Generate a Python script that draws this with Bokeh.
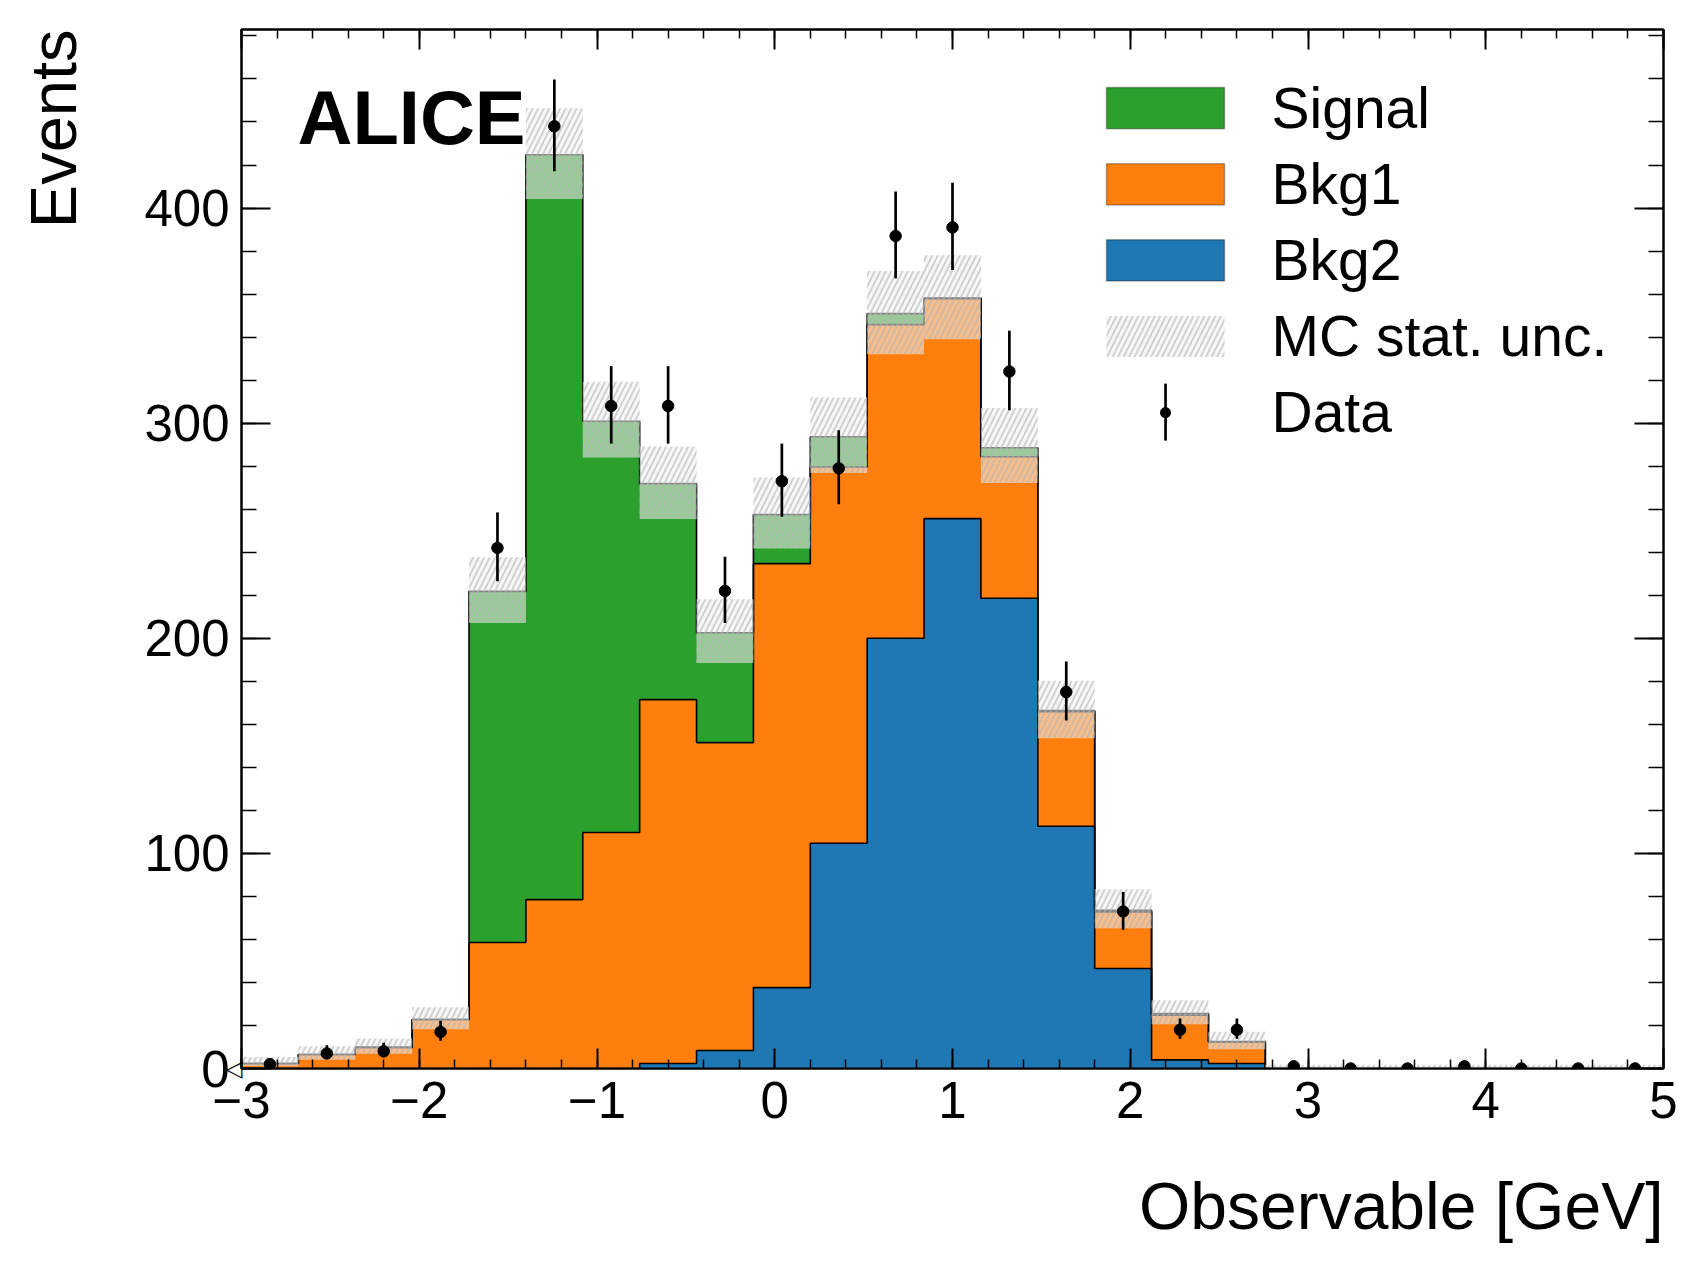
import numpy as np
from bokeh.plotting import figure
from bokeh.models import (Range1d, SingleIntervalTicker, LinearAxis, Label, Title,
                          BoxAnnotation, CustomJSTickFormatter)
from bokeh.embed import file_html
from bokeh.resources import INLINE

# binning of the observable [GeV]
edges = [-3.0, -2.68, -2.36, -2.04, -1.72, -1.40, -1.08, -0.76, -0.44, -0.12,
         0.20, 0.52, 0.84, 1.16, 1.48, 1.80, 2.12, 2.44, 2.76, 3.08,
         3.40, 3.72, 4.04, 4.36, 4.68, 5.00]

# stacked MC components (per bin)
bkg2 = [0, 0, 0, 0, 0, 0, 0, 2.3, 8.4, 37.6, 104.7, 200.0, 255.6, 218.6, 112.6,
        46.5, 4.0, 2.3, 0, 0, 0, 0, 0, 0, 0]
bkg1 = [2.3, 6.5, 9.8, 22.8, 58.6, 78.5, 109.7, 169.2, 143.1, 197.1, 174.9, 145.8,
        102.3, 65.8, 53.3, 26.3, 20.8, 10.0, 0, 0, 0, 0, 0, 0, 0]
signal = [0, 0, 0, 0, 163.2, 346.3, 191.2, 100.4, 51.1, 22.8, 14.1, 5.1, 0.3, 4.2,
          0.5, 0.8, 0.8, 0.2, 0, 0, 0, 0, 0, 0, 0]

# MC stat. uncertainty band (lower / upper edge)
mc_lo = [1.0, 4.1, 6.8, 18.2, 207.1, 404.2, 284.0, 255.4, 188.5, 241.7, 276.8, 332.0,
         339.0, 272.2, 153.5, 65.2, 20.6, 9.0, 0, 0, 0, 0, 0, 0, 0]
mc_hi = [5.4, 10.3, 13.9, 28.5, 237.7, 446.4, 319.2, 289.2, 218.1, 274.7, 311.9, 370.7,
         378.0, 307.0, 180.3, 83.3, 31.7, 17.1, 1.8, 1.8, 1.8, 1.8, 1.8, 1.8, 1.8]

# data counts and their error bars
data = [2, 7, 8, 17, 242, 438, 308, 308, 222, 273, 279, 387, 391, 324, 175, 73, 18, 18,
        1, 0, 0, 1, 0, 0, 0]
data_err_lo = [1.3, 2.6, 2.8, 4.1, 15.5, 20.9, 17.5, 17.5, 14.9, 16.5, 16.7, 19.7, 19.8,
               18.0, 13.2, 8.5, 4.2, 4.2, 0.8, 0, 0, 0.8, 0, 0, 0]
data_err_hi = [2.6, 3.8, 4.0, 5.2, 16.5, 21.7, 18.5, 18.5, 15.9, 17.5, 17.7, 20.7, 20.8,
               19.0, 14.2, 9.1, 5.3, 5.3, 2.3, 1.8, 1.8, 2.3, 1.8, 1.8, 1.8]

x_ticks = [-3, -2, -1, 0, 1, 2, 3, 4, 5]
x_tick_labels = ["\u22123", "\u22122", "\u22121", "0", "1", "2", "3", "4", "5"]
y_ticks = [0, 100, 200, 300, 400]

colors = {"Signal": "#2ca02c", "Bkg1": "#ff7f0e", "Bkg2": "#1f77b4"}
FONT = "Liberation Sans"


def stepped(v):
    v = list(v)
    return v + [v[-1]]


edges_a = np.array(edges)
centers = (edges_a[:-1] + edges_a[1:]) / 2
lvl0 = np.zeros(len(bkg2))
lvl1 = np.array(bkg2)
lvl2 = lvl1 + np.array(bkg1)
lvl3 = lvl2 + np.array(signal)
data_a = np.array(data, dtype=float)

p = figure(frame_width=1422, frame_height=1039,
           min_border_left=241, min_border_right=37,
           min_border_top=29, min_border_bottom=195,
           x_range=Range1d(-3, 5), y_range=Range1d(0, 483),
           output_backend="svg", toolbar_location=None)
p.xgrid.visible = False
p.ygrid.visible = False
p.outline_line_color = "black"
p.outline_line_width = 2
p.background_fill_color = "white"
p.border_fill_color = "white"

# stacked histogram
for lo, hi, name in [(lvl0, lvl1, "Bkg2"), (lvl1, lvl2, "Bkg1"), (lvl2, lvl3, "Signal")]:
    p.varea_step(x=edges, y1=stepped(lo), y2=stepped(hi), step_mode="after",
                 fill_color=colors[name])
for lvl in [lvl1, lvl2, lvl3]:
    p.step(x=edges, y=stepped(lvl), mode="after", line_color="black", line_width=1.6)

# MC stat band
hatch = dict(fill_color="#f0f0f0", fill_alpha=0.55, hatch_pattern="/",
             hatch_color="#b4b4b4", hatch_alpha=0.6, hatch_weight=1.8, hatch_scale=11)
p.varea_step(x=edges, y1=stepped(mc_lo), y2=stepped(mc_hi), step_mode="after", **hatch)

# data
p.segment(x0=centers, y0=data_a - np.array(data_err_lo), x1=centers,
          y1=data_a + np.array(data_err_hi), line_color="black", line_width=2.7)
p.scatter(centers, data_a, size=11.5, color="black")

# axes
def style_axis(ax, major_in, minor_in):
    ax.axis_line_width = 2
    ax.axis_line_color = "black"
    ax.major_tick_in = major_in
    ax.major_tick_out = 0
    ax.minor_tick_in = minor_in
    ax.minor_tick_out = 0
    ax.major_tick_line_width = 2
    ax.minor_tick_line_width = 1.5
    ax.major_tick_line_color = "black"
    ax.minor_tick_line_color = "black"
    ax.major_label_text_font = FONT
    ax.major_label_text_font_size = "51px"
    ax.major_label_text_color = "black"

xa = p.xaxis[0]
xa.ticker = SingleIntervalTicker(interval=1, num_minor_ticks=5)
xa.major_label_overrides = dict(zip(x_ticks, x_tick_labels))
style_axis(xa, 20, 9)
xa.major_label_standoff = 13
# blank axis label only keeps room between tick labels and the title below
xa.axis_label = " "
xa.axis_label_text_font_size = "1px"
xa.axis_label_standoff = 44

# inner y axis: ticks plus the small marker at y = 0
ya = p.yaxis[0]
ya.ticker = SingleIntervalTicker(interval=100, num_minor_ticks=5)
style_axis(ya, 29, 15)
ya.major_label_overrides = {t: ("\u25c1" if t == 0 else "") for t in y_ticks}
ya.major_label_text_font = "DejaVu Sans"
ya.major_label_text_font_size = "22px"
ya.major_label_standoff = -1

# outer y axis: the numbers only
yn = LinearAxis(ticker=SingleIntervalTicker(interval=100, num_minor_ticks=5))
style_axis(yn, 0, 0)
yn.axis_line_color = None
yn.major_tick_line_color = None
yn.minor_tick_line_color = None
yn.major_label_standoff = -7
yn.axis_label = " "
yn.axis_label_text_font_size = "1px"
yn.axis_label_standoff = 48
p.add_layout(yn, "left")

blank = CustomJSTickFormatter(code="return ''")
top = LinearAxis(ticker=SingleIntervalTicker(interval=1, num_minor_ticks=5),
                 formatter=blank, major_label_standoff=0)
style_axis(top, 20, 9)
top.major_label_text_font_size = "1px"
p.add_layout(top, "above")
right = LinearAxis(ticker=SingleIntervalTicker(interval=100, num_minor_ticks=5),
                   formatter=blank, major_label_standoff=0)
style_axis(right, 29, 15)
right.major_label_text_font_size = "1px"
p.add_layout(right, "right")

# axis titles, right-aligned at the end of each axis
p.add_layout(Title(text="Events", align="right", vertical_align="bottom", standoff=0,
                   text_font=FONT, text_font_size="65px", text_font_style="normal",
                   text_color="black"), "left")
p.add_layout(Title(text="Observable [GeV]", align="right", vertical_align="top",
                   standoff=0, text_font=FONT, text_font_size="66px",
                   text_font_style="normal", text_color="black"), "below")

# frame-relative screen positions (x from left edge, y up from bottom edge)
FL, FB = 241.0, 1068.3


def sx(x):
    return x - FL


def sy(y, size=0):
    # labels sit ~0.37 em lower than the given alphabetic baseline
    return FB - y + 0.37 * size


p.add_layout(Label(x=sx(297), y=sy(145.5, 76), x_units="screen", y_units="screen",
                   text="ALICE", text_align="left", text_baseline="alphabetic",
                   text_font=FONT, text_font_style="bold", text_font_size="76px",
                   text_color="black"))

# legend
leg_names = ["Signal", "Bkg1", "Bkg2", "MC stat. unc.", "Data"]
box_units = dict(left_units="screen", right_units="screen", top_units="screen",
                 bottom_units="screen")
for i, name in enumerate(leg_names):
    c = 108 + 76.1 * i
    if name in colors:
        p.add_layout(BoxAnnotation(left=sx(1106), right=sx(1224), top=sy(c - 20.6),
                                   bottom=sy(c + 20.6), fill_color=colors[name],
                                   fill_alpha=1, line_color="black", line_width=1.5,
                                   **box_units))
    elif name == "Data":
        p.add_layout(BoxAnnotation(left=sx(1163.7), right=sx(1166.4), top=sy(c - 29),
                                   bottom=sy(c + 28), fill_color="black", fill_alpha=1,
                                   line_color=None, **box_units))
        p.add_layout(BoxAnnotation(left=sx(1159.5), right=sx(1170.5), top=sy(c - 5.5),
                                   bottom=sy(c + 5.5), fill_color="black", fill_alpha=1,
                                   line_color=None, border_radius=6, **box_units))
    else:
        p.add_layout(BoxAnnotation(left=sx(1106), right=sx(1224), top=sy(c - 20.6),
                                   bottom=sy(c + 20.6), line_color=None, **hatch,
                                   **box_units))
    p.add_layout(Label(x=sx(1271), y=sy(c + 20.5, 57), x_units="screen",
                       y_units="screen", text=name, text_align="left",
                       text_baseline="alphabetic", text_font=FONT,
                       text_font_size="57px", text_color="black"))

open("out.html", "w").write(file_html(p, INLINE))
